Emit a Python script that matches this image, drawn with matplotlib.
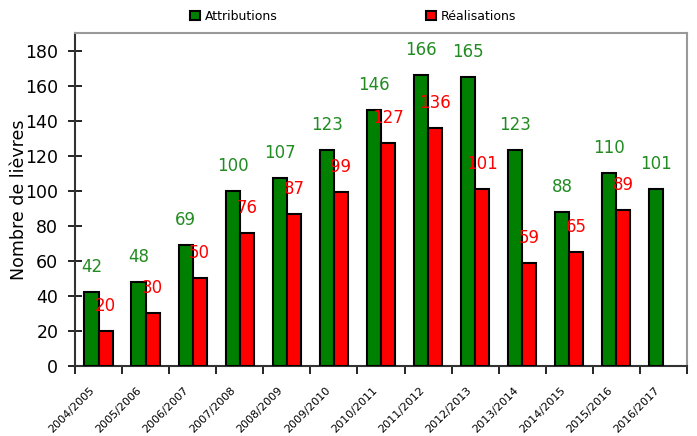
import numpy as np
import matplotlib
matplotlib.use("Agg")
import matplotlib.pyplot as plt
import matplotlib.transforms as mtransforms
from matplotlib.ticker import FixedLocator

seasons = ["2004/2005", "2005/2006", "2006/2007", "2007/2008", "2008/2009",
           "2009/2010", "2010/2011", "2011/2012", "2012/2013", "2013/2014",
           "2014/2015", "2015/2016", "2016/2017"]
attributions = [42, 48, 69, 100, 107, 123, 146, 166, 165, 123, 88, 110, 101]
realisations = [20, 30, 50, 76, 87, 99, 127, 136, 101, 59, 65, 89, None]

x = np.arange(len(seasons))
w = 0.3

fig = plt.figure(figsize=(6.97, 4.36), dpi=100)
ax = fig.add_axes([0.1076, 0.1606, 0.878, 0.7637])

b1 = ax.bar(x - w / 2, attributions, w, color="#008000", edgecolor="black",
            linewidth=1.5, label="Attributions", zorder=3)
xr = [xi for xi, v in zip(x, realisations) if v is not None]
vr = [v for v in realisations if v is not None]
b2 = ax.bar(np.array(xr) + w / 2, vr, w, color="#ff0000", edgecolor="black",
            linewidth=1.5, label="Réalisations", zorder=3)

for xi, v in zip(x, attributions):
    ax.annotate(str(v), (xi - w / 2, v), xytext=(0, 18), textcoords="offset points",
                ha="center", va="center", color="#228b22", fontsize=12)
for xi, v in zip(xr, vr):
    ax.annotate(str(v), (xi + w / 2, v), xytext=(0, 18), textcoords="offset points",
                ha="center", va="center", color="#ff0000", fontsize=12)

ax.set_xlim(-0.5, len(seasons) - 0.5)
ax.set_ylim(0, 190)
ax.set_yticks(range(0, 181, 20))
ax.tick_params(axis="y", direction="inout", length=10, width=1.2, labelsize=12.5, pad=7)

ax.set_xticks(x)
ax.set_xticklabels(seasons, rotation=45, ha="right", rotation_mode="anchor", fontsize=8)
ax.tick_params(axis="x", which="major", length=0, pad=14)
shift = mtransforms.ScaledTranslation(-9 / 100, 0, fig.dpi_scale_trans)
for lab in ax.get_xticklabels():
    lab.set_transform(lab.get_transform() + shift)
ax.xaxis.set_minor_locator(FixedLocator(np.arange(-0.5, len(seasons), 1)))
ax.tick_params(axis="x", which="minor", direction="out", length=6, width=1.2)

ax.set_ylabel("Nombre de lièvres", fontsize=12.5)
ax.yaxis.set_label_coords(-0.077, 0.5)

ax.spines["left"].set_color("#333333")
ax.spines["left"].set_linewidth(1.5)
ax.spines["bottom"].set_color("#333333")
ax.spines["bottom"].set_linewidth(1.5)
ax.spines["top"].set_color("#999999")
ax.spines["top"].set_linewidth(1.5)
ax.spines["right"].set_color("#999999")
ax.spines["right"].set_linewidth(1.5)

fig.legend(handles=[b1, b2], loc="upper left", bbox_to_anchor=(0.256, 1.003), ncol=2,
           frameon=False, fontsize=9, handlelength=0.8, handleheight=0.8,
           handletextpad=0.4, columnspacing=11.86)

fig.savefig("out.png", dpi=100)
